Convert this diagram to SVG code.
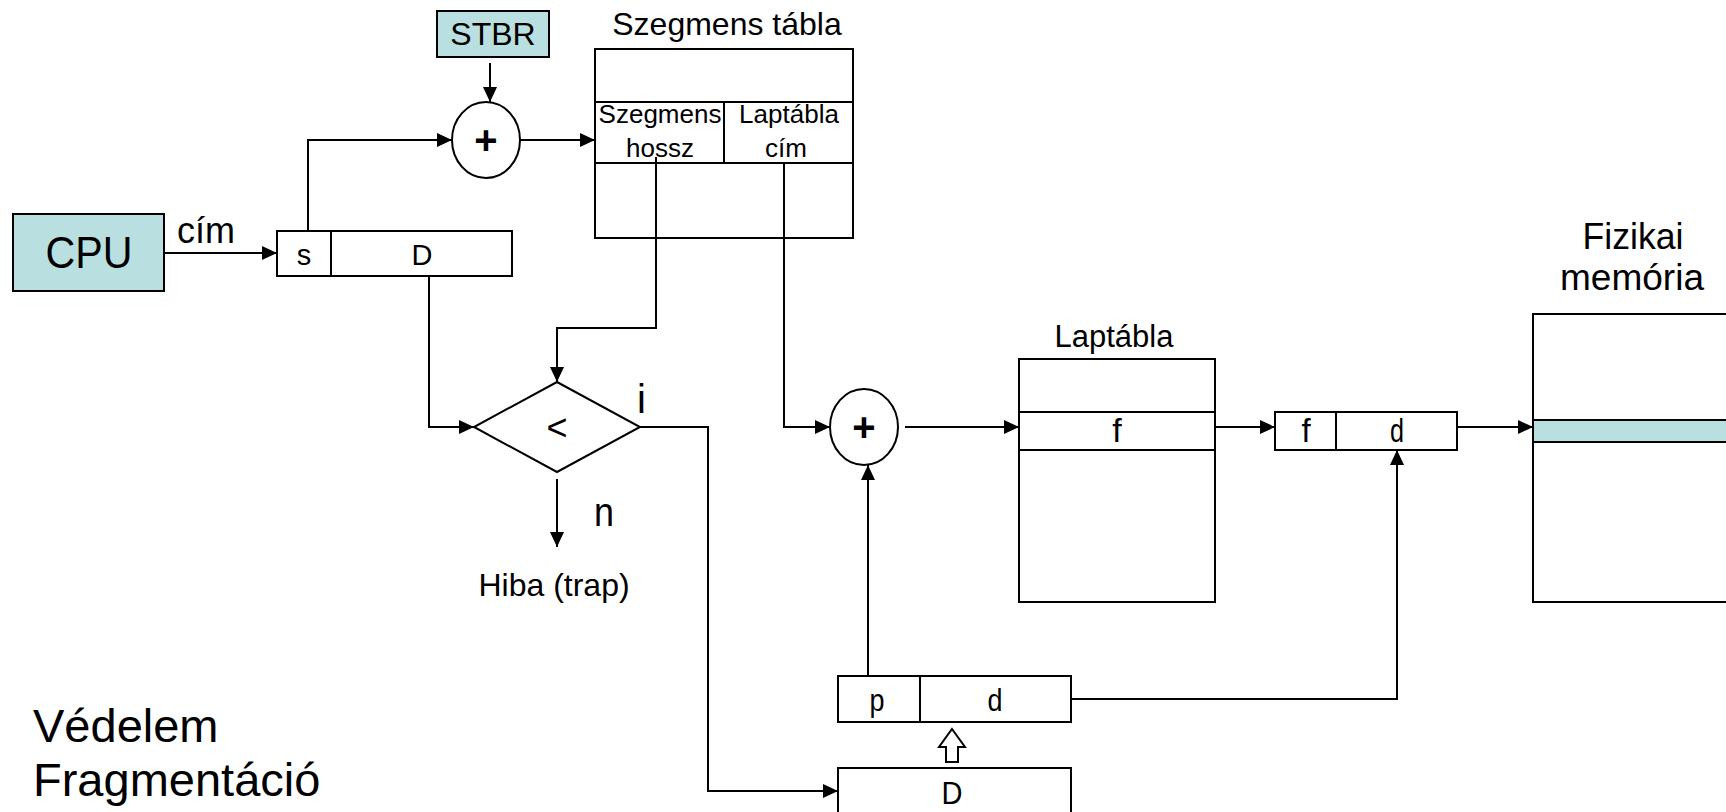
<svg xmlns="http://www.w3.org/2000/svg" width="1726" height="812" viewBox="0 0 1726 812">
<style>
text{font-family:"Liberation Sans",Arial,sans-serif;fill:#000}
.c{text-anchor:middle}
.box{fill:#fff;stroke:#000;stroke-width:2}
.teal{fill:#B9DFE1;stroke:#000;stroke-width:2}
.ln{fill:none;stroke:#000;stroke-width:2}
.plus{font-weight:bold}
.conn path{fill:none;stroke:#000;stroke-width:2}
.arr{marker-end:url(#ah)}
</style>
<defs>
<marker id="ah" markerWidth="15" markerHeight="14" refX="15" refY="7" orient="auto" markerUnits="userSpaceOnUse"><path d="M0,0 L15,7 L0,14 z" fill="#000"/></marker>
</defs>
<rect width="1726" height="812" fill="#fff"/>

<g id="stbr">
<rect class="teal" x="437" y="11" width="112" height="46"/>
<text class="c" x="493" y="45" font-size="32">STBR</text>
</g>

<g id="plus1">
<ellipse class="box" cx="486" cy="140" rx="34" ry="38"/>
<text class="c plus" x="486" y="154" font-size="40">+</text>
</g>

<g id="szegmens-tabla">
<text class="c" x="727" y="35" font-size="32">Szegmens tábla</text>
<rect class="box" x="595" y="49" width="258" height="189"/>
<path class="ln" d="M595,102 H853 M595,163 H853 M724,102 V163"/>
<text class="c" x="660" y="123" font-size="26">Szegmens</text>
<text class="c" x="660" y="157" font-size="26">hossz</text>
<text class="c" x="789" y="123" font-size="26">Laptábla</text>
<text class="c" x="786" y="157" font-size="26">cím</text>
</g>

<g id="cpu">
<rect class="teal" x="13" y="214" width="151" height="77"/>
<text class="c" x="89" y="268" font-size="44" textLength="87" lengthAdjust="spacingAndGlyphs">CPU</text>
</g>

<g id="cim-label">
<text x="177" y="243" font-size="36">cím</text>
</g>

<g id="sd">
<rect class="box" x="277" y="231" width="235" height="45"/>
<path class="ln" d="M331,231 V276"/>
<text class="c" x="304" y="265" font-size="29">s</text>
<text class="c" x="422" y="265" font-size="29">D</text>
</g>

<g id="diamond">
<polygon class="box" points="557,382 640,427 557,472 474,427"/>
<text class="c" x="557" y="440" font-size="36">&lt;</text>
<text x="637" y="413" font-size="40">i</text>
<text x="594" y="526" font-size="40" textLength="20" lengthAdjust="spacingAndGlyphs">n</text>
</g>

<g id="hiba">
<text class="c" x="554" y="596" font-size="32">Hiba (trap)</text>
</g>

<g id="plus2">
<ellipse class="box" cx="864" cy="427" rx="34" ry="38"/>
<text class="c plus" x="864" y="441" font-size="40">+</text>
</g>

<g id="laptabla">
<text class="c" x="1114" y="347" font-size="31">Laptábla</text>
<rect class="box" x="1019" y="359" width="196" height="243"/>
<path class="ln" d="M1019,412 H1215 M1019,450 H1215"/>
<text class="c" x="1117" y="442" font-size="34">f</text>
</g>

<g id="fd">
<rect class="box" x="1275" y="412" width="182" height="38"/>
<path class="ln" d="M1336,412 V450"/>
<text class="c" x="1306" y="442" font-size="33">f</text>
<text class="c" x="1397" y="442" font-size="33" textLength="14" lengthAdjust="spacingAndGlyphs">d</text>
</g>

<g id="memoria">
<text class="c" x="1633" y="249" font-size="37" textLength="101" lengthAdjust="spacingAndGlyphs">Fizikai</text>
<text class="c" x="1632" y="290" font-size="37" textLength="144" lengthAdjust="spacingAndGlyphs">memória</text>
<rect class="box" x="1533" y="314" width="260" height="288"/>
<rect class="teal" x="1533" y="420" width="260" height="22"/>
</g>

<g id="pd">
<rect class="box" x="838" y="676" width="233" height="46"/>
<path class="ln" d="M920,676 V722"/>
<text class="c" x="877" y="711" font-size="31" textLength="15" lengthAdjust="spacingAndGlyphs">p</text>
<text class="c" x="995" y="711" font-size="31" textLength="15" lengthAdjust="spacingAndGlyphs">d</text>
</g>

<g id="hollow-arrow">
<polygon points="952,729 965,747 958,747 958,762 946,762 946,747 939,747" fill="#fff" stroke="#000" stroke-width="2"/>
</g>

<g id="dbox">
<rect class="box" x="838" y="768" width="233" height="60"/>
<text class="c" x="952" y="804" font-size="31" textLength="21" lengthAdjust="spacingAndGlyphs">D</text>
</g>

<g id="notes">
<text x="33" y="742" font-size="47">Védelem</text>
<text x="33" y="796" font-size="47">Fragmentáció</text>
</g>

<g id="connectors" class="conn">
<path class="arr" d="M490,63 V102"/>
<path class="arr" d="M308,231 V140 H452"/>
<path class="arr" d="M520,140 H595"/>
<path class="arr" d="M164,253 H277"/>
<path class="arr" d="M656,157 V328 H557 V382"/>
<path class="arr" d="M429,276 V427 H474"/>
<path class="arr" d="M557,479 V547"/>
<path class="arr" d="M640,427 H708 V791 H838"/>
<path class="arr" d="M784,163 V427 H830"/>
<path class="arr" d="M905,427 H1019"/>
<path class="arr" d="M868,676 V465"/>
<path class="arr" d="M1215,427 H1275"/>
<path class="arr" d="M1071,699 H1397 V450"/>
<path class="arr" d="M1457,427 H1533"/>
</g>
</svg>
